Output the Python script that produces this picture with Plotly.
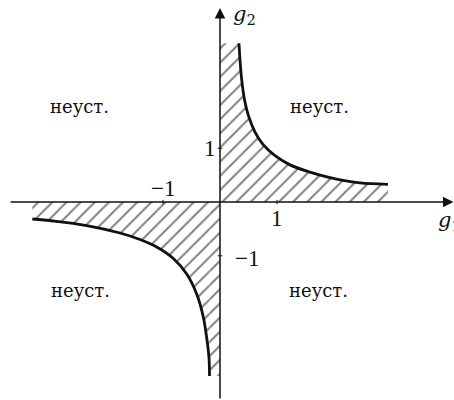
import plotly.graph_objects as go

# Boundary of the stable region (g1, g2) in the first quadrant
q1_g1 = [0.333, 0.351, 0.381, 0.430, 0.500, 0.614, 0.754, 0.965, 1.228, 1.579, 1.877, 2.158, 2.456, 2.947]
q1_g2 = [2.950, 2.640, 2.270, 1.900, 1.600, 1.300, 1.070, 0.860, 0.690, 0.555, 0.465, 0.400, 0.355, 0.329]

# Boundary of the stable region in the third quadrant
q3_g1 = [-3.293, -2.925, -2.339, -1.754, -1.404, -1.111, -0.819, -0.584, -0.409, -0.293, -0.233, -0.193, -0.184]
q3_g2 = [-0.316, -0.353, -0.437, -0.576, -0.697, -0.836, -1.050, -1.338, -1.710, -2.138, -2.528, -2.900, -3.234]

region_label = "неуст."
x_tick_vals = [1, -1]
y_tick_vals = [1, -1]

num_font_family = "Liberation Serif"
txt_font_family = "DejaVu Serif"
ink = "#111111"
hatch = dict(shape="/", size=10, solidity=0.2, fgcolor="black", bgcolor="white")

fig = go.Figure()

# Hatched strips next to the axes (between axis and the curve's end point)
fig.add_trace(go.Scatter(
    x=[0, 0, q1_g1[0], q1_g1[0], 0], y=[0, q1_g2[0], q1_g2[0], 0, 0],
    mode="lines", line=dict(width=0), fill="toself", fillcolor="white",
    fillpattern=hatch, hoverinfo="skip", showlegend=False))
fig.add_trace(go.Scatter(
    x=[q3_g1[-1], q3_g1[-1], 0, 0, q3_g1[-1]], y=[0, q3_g2[-1], q3_g2[-1], 0, 0],
    mode="lines", line=dict(width=0), fill="toself", fillcolor="white",
    fillpattern=hatch, hoverinfo="skip", showlegend=False))

# Boundary curves, hatched down/up to the g1 axis
for gx, gy in [(q1_g1, q1_g2), (q3_g1, q3_g2)]:
    fig.add_trace(go.Scatter(x=gx, y=gy, mode="lines", fill="tozeroy",
                             fillcolor="white", fillpattern=hatch,
                             line=dict(color=ink, width=2.8, shape="spline", smoothing=1.0),
                             hoverinfo="skip", showlegend=False))

x_lo, x_hi = -220 / 57, 234 / 57
y_lo, y_hi = -198 / 53.8, 202 / 53.8

annotations = []
# Coordinate axes with arrowheads
annotations.append(dict(x=x_hi - 0.01, y=0, ax=x_lo + 0.16, ay=0,
                        xref="x", yref="y", axref="x", ayref="y",
                        showarrow=True, arrowhead=2, arrowsize=1.4,
                        arrowwidth=1.5, arrowcolor=ink, text=""))
annotations.append(dict(x=0, y=y_hi - 0.15, ax=0, ay=y_lo,
                        xref="x", yref="y", axref="x", ayref="y",
                        showarrow=True, arrowhead=2, arrowsize=1.4,
                        arrowwidth=1.5, arrowcolor=ink, text=""))

# Axis names
axis_font = dict(family=txt_font_family, size=21, color=ink)
annotations.append(dict(x=0.19, y=3.47, text="<i>g</i><sub>2</sub>", showarrow=False,
                        xanchor="left", font=axis_font))
annotations.append(dict(x=3.79, y=-0.35, text="<i>g</i><sub>1</sub>", showarrow=False,
                        xanchor="left", font=axis_font))

# Tick labels
tick_font = dict(family=num_font_family, size=23, color=ink)
annotations.append(dict(x=x_tick_vals[0], y=-0.30, text="1", showarrow=False, font=tick_font))
annotations.append(dict(x=x_tick_vals[1], y=0.26, text="\u22121", showarrow=False, font=tick_font))
annotations.append(dict(x=-0.17, y=y_tick_vals[0], text="1", showarrow=False, font=tick_font))
annotations.append(dict(x=0.48, y=y_tick_vals[1] - 0.05, text="\u22121", showarrow=False, font=tick_font))

# Unstable region labels
lab_font = dict(family=txt_font_family, size=18, color=ink)
for gx, gy in [(-2.465, 1.77), (1.737, 1.77), (-2.45, -1.636), (1.72, -1.636)]:
    annotations.append(dict(x=gx, y=gy, text=region_label, showarrow=False, font=lab_font))

shapes = []
# Small tick marks on the axes
for v in x_tick_vals:
    shapes.append(dict(type="line", x0=v, x1=v, y0=-0.04, y1=0.04,
                       xref="x", yref="y", line=dict(color=ink, width=1)))
for v in y_tick_vals:
    shapes.append(dict(type="line", x0=-0.04, x1=0.04, y0=v, y1=v,
                       xref="x", yref="y", line=dict(color=ink, width=1)))

fig.update_layout(
    width=454, height=400,
    margin=dict(l=0, r=0, t=0, b=0),
    paper_bgcolor="white", plot_bgcolor="white",
    xaxis=dict(range=[x_lo, x_hi], visible=False, fixedrange=True),
    yaxis=dict(range=[y_lo, y_hi], visible=False, fixedrange=True),
    annotations=annotations, shapes=shapes,
)

fig.write_html("out.html")
